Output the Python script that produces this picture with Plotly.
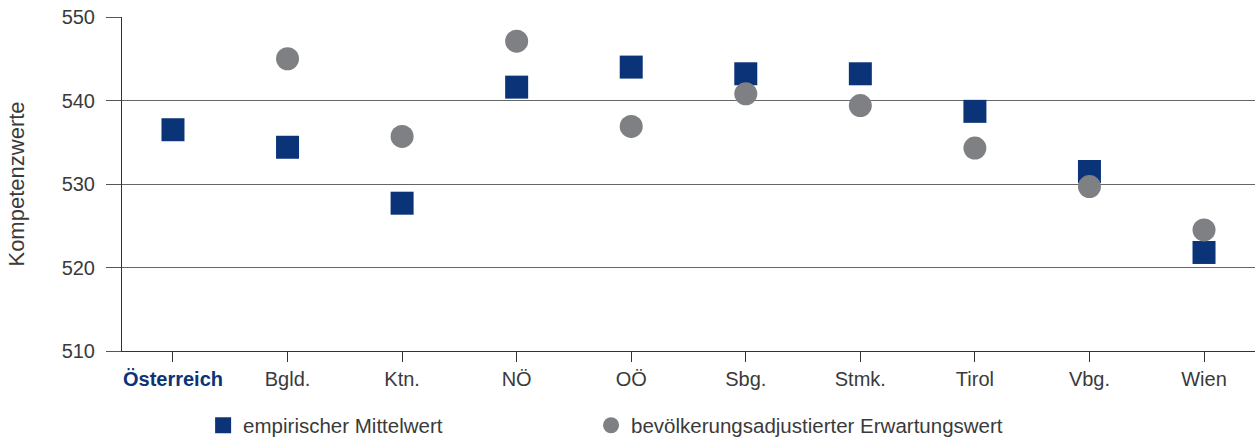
import plotly.graph_objects as go

# Data
regions = ["Österreich", "Bgld.", "Ktn.", "NÖ", "OÖ", "Sbg.", "Stmk.", "Tirol", "Vbg.", "Wien"]
empirisch = [536.5, 534.4, 527.7, 541.6, 544.0, 543.2, 543.2, 538.7, 531.5, 521.8]
erwartung = [None, 545.0, 535.7, 547.1, 536.9, 540.8, 539.4, 534.3, 529.7, 524.5]

navy = "#0b3478"
grey = "#7f8083"

tick_text = ["<b><span style='color:%s'>%s</span></b>" % (navy, regions[0])] + regions[1:]
x_idx = list(range(len(regions)))

fig = go.Figure()
fig.add_trace(go.Scatter(
    x=x_idx, y=empirisch, mode="markers",
    marker=dict(symbol="square", size=23, color=navy),
    name="empirischer Mittelwert", legend="legend"
))
fig.add_trace(go.Scatter(
    x=x_idx, y=erwartung, mode="markers",
    marker=dict(symbol="circle", size=23, color=grey),
    name="bevölkerungsadjustierter Erwartungswert", legend="legend2"
))

legend_style = dict(
    orientation="h", xanchor="left", y=-0.163, yanchor="top",
    font=dict(size=20.5, color="#3a3a3a"), itemsizing="trace",
    bgcolor="rgba(0,0,0,0)",
)

fig.update_layout(
    width=1255, height=439,
    margin=dict(l=122, r=0, t=17, b=88, autoexpand=False),
    plot_bgcolor="white", paper_bgcolor="white",
    font=dict(family="Liberation Sans, Arial, sans-serif", size=20, color="#3a3a3a"),
    showlegend=True,
    legend=dict(x=0.0716, **legend_style),
    legend2=dict(x=0.414, **legend_style),
    xaxis=dict(
        range=[-0.445, 9.445],
        tickmode="array", tickvals=x_idx, ticktext=tick_text,
        ticks="outside", ticklen=10, tickcolor="#333", tickwidth=1,
        showgrid=False, zeroline=False,
        showline=True, linecolor="#333", linewidth=1,
    ),
    yaxis=dict(
        range=[510, 550],
        tickmode="array", tickvals=[510, 520, 530, 540, 550],
        ticks="outside", ticklen=15, tickcolor="#555", tickwidth=1,
        ticklabelstandoff=7,
        showgrid=True, gridcolor="#666", gridwidth=1,
        zeroline=False,
        showline=True, linecolor="#333", linewidth=1,
        tickfont=dict(size=20),
        title=dict(text="Kompetenzwerte", font=dict(size=22), standoff=30),
    ),
)

fig.write_html("out.html", config={"displayModeBar": False},
               post_script="document.body.style.margin='0';")
